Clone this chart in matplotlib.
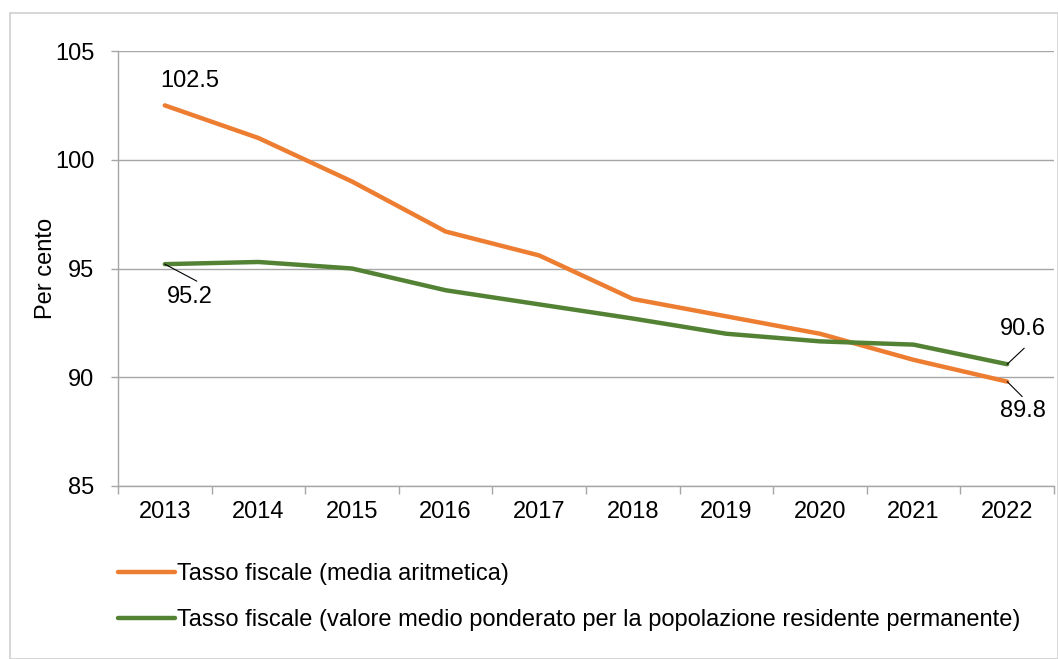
import matplotlib
matplotlib.use("Agg")
import matplotlib.pyplot as plt
from matplotlib.lines import Line2D

years = ["2013", "2014", "2015", "2016", "2017", "2018", "2019", "2020", "2021", "2022"]
media_aritmetica = [102.5, 101.0, 99.0, 96.7, 95.6, 93.6, 92.8, 92.0, 90.8, 89.8]
media_ponderata = [95.2, 95.3, 95.0, 94.0, 93.35, 92.7, 92.0, 91.65, 91.5, 90.6]
series_names = ["Tasso fiscale (media aritmetica)",
                "Tasso fiscale (valore medio ponderato per la popolazione residente permanente)"]

plt.rcParams['font.family'] = ['Liberation Sans', 'DejaVu Sans']

ORANGE = "#ED7D31"
GREEN = "#548235"
GRID = "#A6A6A6"
FS = 17

fig = plt.figure(figsize=(10.58, 6.59), dpi=100)
fig.patches.append(plt.Rectangle((10/1058, 0), 1 - 10/1058 - 0.5/1058, 1 - 13/659,
                                 transform=fig.transFigure, fill=False,
                                 edgecolor="#D0D0D0", linewidth=1.2))
ax = fig.add_axes([118/1058, 1 - 486/659, (1054 - 118)/1058, (486 - 51)/659])

x = list(range(len(years)))
ax.plot(x, media_aritmetica, color=ORANGE, lw=3.2, solid_capstyle='round', solid_joinstyle='round', zorder=3)
ax.plot(x, media_ponderata, color=GREEN, lw=3.2, solid_capstyle='round', solid_joinstyle='round', zorder=3)

ax.set_xlim(-0.5, len(years) - 0.5)
ax.set_ylim(85, 105)
ax.set_yticks([85, 90, 95, 100, 105])
ax.yaxis.grid(True, color=GRID, lw=1.0)
ax.set_axisbelow(True)
for s in ["top", "right"]:
    ax.spines[s].set_visible(False)
for s in ["left", "bottom"]:
    ax.spines[s].set_color(GRID)
    ax.spines[s].set_linewidth(1.0)

ax.set_xticks([i - 0.5 for i in range(len(years) + 1)])
ax.set_xticklabels([])
ax.set_xticks(x, minor=True)
ax.set_xticklabels(years, minor=True, fontsize=FS)
ax.tick_params(axis='x', which='major', length=6, color=GRID, width=1.0)
ax.tick_params(axis='x', which='minor', length=0, pad=11)
ax.tick_params(axis='y', length=5, color=GRID, width=1.0, labelsize=FS, pad=12)
ax.set_ylabel("Per cento", fontsize=FS)
ax.yaxis.set_label_coords((57 - 118) / 936, 0.5)

# data labels
def leader(xy, dx, dy):
    ax.annotate("", xy=xy, xytext=(dx * 0.72, dy * 0.72), textcoords='offset points',
                arrowprops=dict(arrowstyle='-', color='black', lw=0.8, shrinkA=0, shrinkB=0),
                zorder=4)

ax.annotate(f"{media_aritmetica[0]:.1f}", xy=(0, media_aritmetica[0]), xytext=(0.27, 103.6),
            fontsize=FS, ha='center', va='center')
ax.annotate(f"{media_ponderata[0]:.1f}", xy=(0, media_ponderata[0]), xytext=(0.27, 93.7),
            fontsize=FS, ha='center', va='center')
leader((0, media_ponderata[0]), 32, -17)
ax.annotate(f"{media_ponderata[-1]:.1f}", xy=(9, media_ponderata[-1]), xytext=(9.17, 92.2),
            fontsize=FS, ha='center', va='center')
leader((9, media_ponderata[-1]), 17, 16)
ax.annotate(f"{media_aritmetica[-1]:.1f}", xy=(9, media_aritmetica[-1]), xytext=(9.17, 88.45),
            fontsize=FS, ha='center', va='center')
leader((9, media_aritmetica[-1]), 15, -15)

# legend
handles = [Line2D([0], [0], color=ORANGE, lw=3.2, solid_capstyle='round'),
           Line2D([0], [0], color=GREEN, lw=3.2, solid_capstyle='round')]
leg = fig.legend(handles, series_names, loc='upper left', bbox_to_anchor=(118/1058, 1 - 563/659),
                 frameon=False, borderpad=0, borderaxespad=0,
                 handlelength=2.4, handletextpad=0.1, labelspacing=1.03,
                 prop={'size': FS})

fig.savefig("out.png", dpi=100)
